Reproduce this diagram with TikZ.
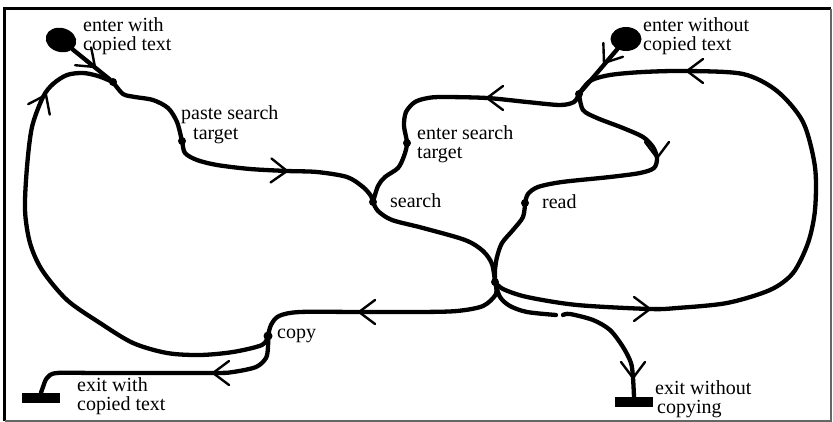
\documentclass[tikz,border=0pt]{standalone}
\usepackage{fontspec}
\setmainfont{Liberation Serif}
\usetikzlibrary{shapes.geometric}
\begin{document}
\begin{tikzpicture}[x=1pt,y=-1pt,
  trail/.style={draw, line width=4.3, line cap=round, line join=round},
  jdot/.style={circle, fill, inner sep=0, minimum size=8},
  lbl/.style={anchor=base west, inner sep=0, font=\fontsize{20}{19}\selectfont},
  blob/.style={ellipse, fill, inner sep=0, minimum width=31, minimum height=24},
  bar/.style={rectangle, fill, inner sep=0, minimum width=38, minimum height=10},
  chev/.pic={\draw[line width=2.4, line cap=round, line join=miter] (-16,-12) -- (0,0) -- (-16,12);}]
\useasboundingbox (0,0) rectangle (833,422);
% frame
\draw[line width=3] (4.5,420.5) -- (4.5,9) -- (831,9);
\draw[line width=2, black!60] (831,9) -- (831,420.5) -- (4.5,420.5);
% start and end nodes
\node[blob, rotate=-15] (entW) at (61,40) {};
\node[blob] (entWO) at (626,39) {};
\node[bar] (exitL) at (41,398) {};
\node[bar] (exitR) at (634,402) {};
% junction dots
\node[jdot] (J1) at (113,82) {};
\node[jdot] (pst) at (182,141) {};
\node[jdot] (srch) at (373,202) {};
\node[jdot] (est) at (407,143) {};
\node[jdot] (J2) at (579,94) {};
\node[jdot] (read) at (525,203) {};
\node[jdot] (C) at (495,282) {};
\node[jdot, minimum size=9] (copy) at (268,336) {};
\coordinate (g1) at (556,315);
\coordinate (g2) at (563,315);
% connectors
\draw[trail] (entW) -- (J1);
\draw[trail] plot[smooth] coordinates {(J1) (123,94) (135,97) (153,100) (168,108) (177,122) (pst) (185,153) (197,160) (217,165) (250,169) (287,171) (317,172) (347,177) (363,187) (371,196) (srch)};
\draw[trail] plot[smooth] coordinates {(srch) (378,211) (392,220) (423,228) (465,240) (483,251) (492,264) (C)};
\draw[trail] plot[smooth] coordinates {(J2) (574,102) (560,105) (527,102) (487,98) (443,97) (428,98) (415,102) (406,112) (404,126) (est) (404,156) (398,168) (385,177) (378,186) (srch)};
\draw[trail] (entWO) -- (J2);
\draw[trail] plot[smooth] coordinates {(C) (503,289) (527,297) (577,305) (650,309) (677,308) (727,303) (770,290) (793,273) (808,243) (815,210) (815,167) (803,122) (777,91) (743,74) (687,71) (643,72) (610,75) (590,81) (J2)};
\draw[trail] plot[smooth] coordinates {(J2) (583,110) (597,118) (623,128) (643,137) (653,147) (657,158) (654,168) (640,173) (610,177) (562,182) (538,187) (528,194) (read)};
\draw[trail] plot[smooth] coordinates {(read) (523,217) (513,230) (502,243) (497,257) (495,270) (C)};
\draw[trail] plot[smooth] coordinates {(C) (496,294) (483,306) (457,311) (420,312) (360,312) (300,312) (279,316) (271,325) (copy)};
\draw[trail] plot[smooth] coordinates {(copy) (262,345) (233,352) (200,355) (167,353) (133,343) (100,323) (67,300) (42,270) (30,243) (25,210) (27,167) (32,127) (43,97) (53,84) (67,75) (83,73) (98,76) (J1)};
\draw[trail] plot[smooth] coordinates {(copy) (268,347) (266,358) (256,367) (233,372) (213,373) (100,373) (57,373) (47,378) (43,387) (exitL.north)};
\draw[trail] plot[smooth] coordinates {(C) (500,297) (510,306) (527,312) (g1)};
\draw[trail] plot[smooth] coordinates {(g2) (570,314) (593,320) (610,330) (623,347) (631,363) (633,378) (exitR.north)};
% arrowheads
\pic[rotate=-42] at (95,67) {chev};
\pic[rotate=64] at (46,95) {chev};
\pic[rotate=-2] at (287,171) {chev};
\pic[rotate=180] at (487,98) {chev};
\pic[rotate=-125] at (604,63) {chev};
\pic[rotate=180] at (687,71) {chev};
\pic[rotate=-90] at (657,158) {chev};
\pic[rotate=0] at (650,309) {chev};
\pic[rotate=180] at (359,312) {chev};
\pic[rotate=180] at (213,373) {chev};
\pic[rotate=-90] at (633,378) {chev};
% labels
\node[lbl] (t1a) at (83,32) {enter with};
\node[lbl] (t1b) at (83,51) {copied text};
\node[lbl] (t2a) at (181,120) {paste search};
\node[lbl] (t2b) at (193,140) {target};
\node[lbl] (t3a) at (417,140) {enter search};
\node[lbl] (t3b) at (417,159) {target};
\node[lbl] (t4) at (390,208) {search};
\node[lbl] (t5) at (542,209) {read};
\node[lbl] (t6) at (277,338) {copy};
\node[lbl] (t7a) at (77,391) {exit with};
\node[lbl] (t7b) at (77,410) {copied text};
\node[lbl] (t8a) at (643,32) {enter without};
\node[lbl] (t8b) at (643,51) {copied text};
\node[lbl] (t9a) at (655,394) {exit without};
\node[lbl] (t9b) at (657,413) {copying};
\end{tikzpicture}
\end{document}
